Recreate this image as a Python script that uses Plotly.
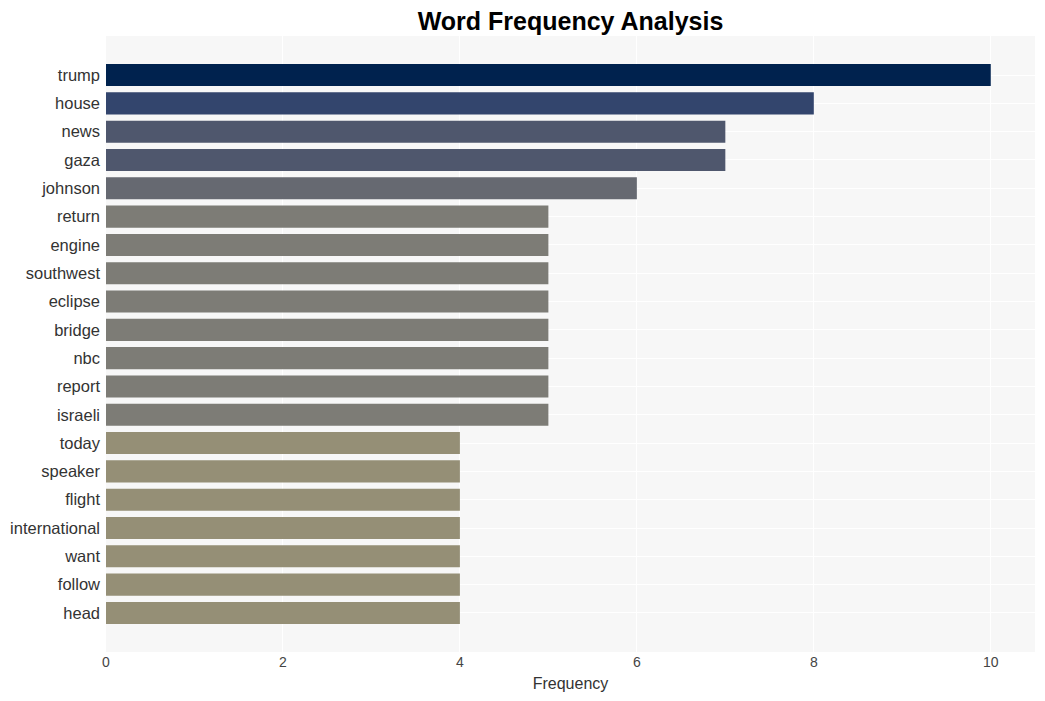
import plotly.graph_objects as go

words = ["trump", "house", "news", "gaza", "johnson", "return", "engine", "southwest",
         "eclipse", "bridge", "nbc", "report", "israeli", "today", "speaker", "flight",
         "international", "want", "follow", "head"]
freqs = [10, 8, 7, 7, 6, 5, 5, 5, 5, 5, 5, 5, 5, 4, 4, 4, 4, 4, 4, 4]

fig = go.Figure(go.Bar(
    x=freqs, y=words, orientation="h",
    marker=dict(color=freqs, colorscale="Cividis", reversescale=True, cmin=0, cmax=10,
                line=dict(width=0)),
    showlegend=False,
))

fig.update_layout(
    width=1037, height=693,
    margin=dict(l=98, r=10, t=28, b=49, autoexpand=False),
    paper_bgcolor="white", plot_bgcolor="#f7f7f7",
    font=dict(family="Liberation Sans, Arial, sans-serif", color="#333"),
    title=dict(text="<b>Word Frequency Analysis</b>", x=0.5, xref="paper", xanchor="center",
               y=0.981, yanchor="middle", font=dict(size=25, color="black")),
    bargap=0.22,
)
fig.update_xaxes(range=[0, 10.5], dtick=2, gridcolor="white", gridwidth=1,
                 zeroline=False, showline=False, ticks="", automargin=False,
                 tickfont=dict(size=14, color="#444"),
                 title=dict(text="Frequency", font=dict(size=16, color="#333"), standoff=8))
fig.update_yaxes(autorange=False, range=[len(words) - 1 + 1.38, -1.38],
                 categoryorder="array", categoryarray=words, automargin=False,
                 gridcolor="white", gridwidth=1, showline=False, ticks="",
                 tickfont=dict(size=16.5, color="#333"), ticklabelstandoff=5)

fig.write_html("out.html")
